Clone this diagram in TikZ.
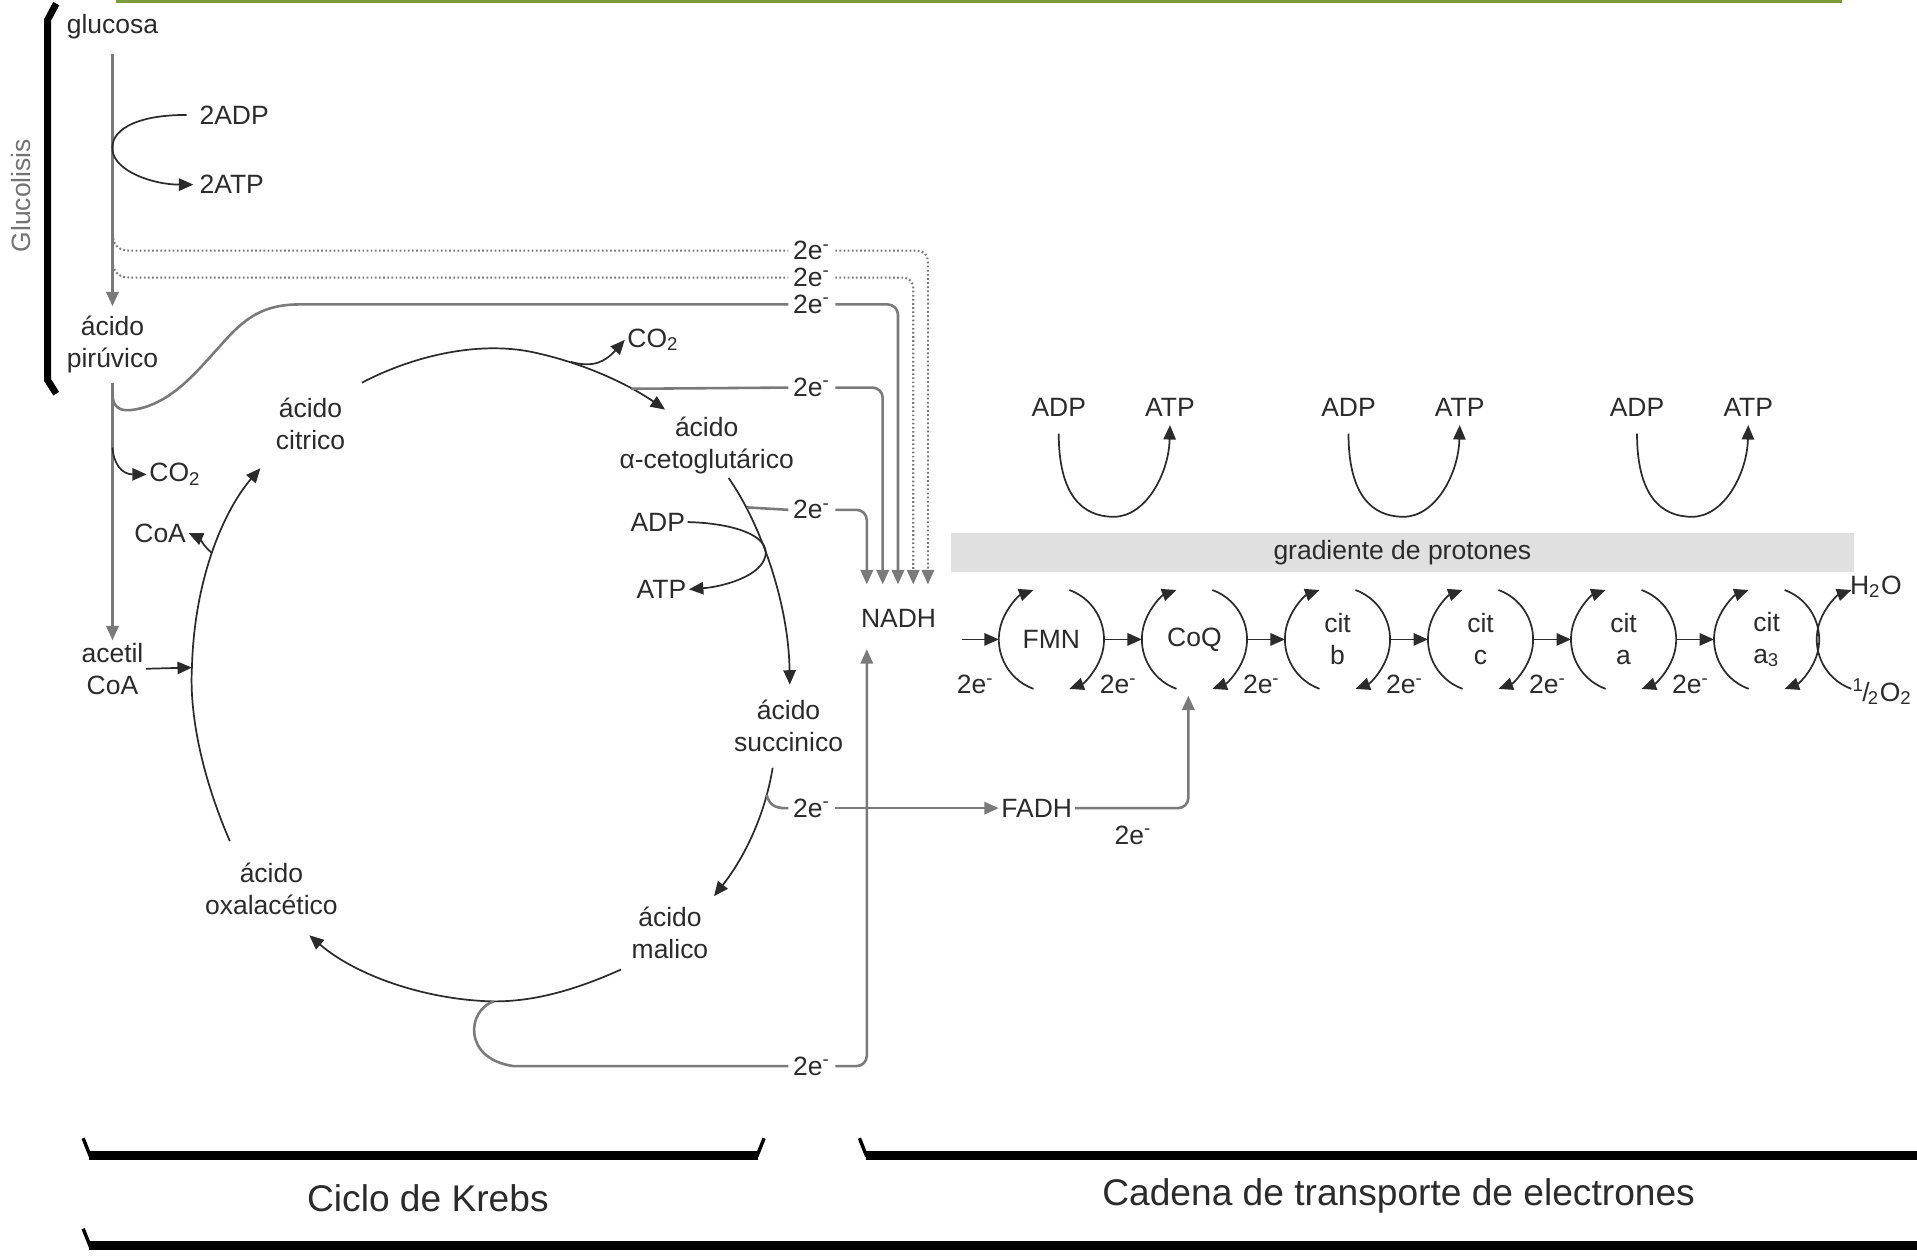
\documentclass[tikz,border=0pt]{standalone}
\usepackage{fontspec}
\setmainfont{Liberation Sans}
\usetikzlibrary{arrows.meta,calc}
\definecolor{oliva}{HTML}{7B9B3A}
\definecolor{gradiente}{HTML}{E0E0E0}
\definecolor{linea}{HTML}{7A7A7A}
\definecolor{tinta}{HTML}{2B2B2B}

\begin{document}
\begin{tikzpicture}[x=0.0125cm,y=-0.0125cm,
    lbl/.style={font=\fontsize{7.7}{9.3}\selectfont,text=tinta,align=center,inner sep=0.6pt},
    elec/.style={lbl,inner xsep=1.2pt,inner ysep=0pt},
    titulo/.style={font=\fontsize{10.8}{13}\selectfont,text=tinta},
    flujo/.style={draw=linea,line width=0.75pt},
    curva/.style={draw=tinta,line width=0.5pt},
    punteo/.style={draw=linea,line width=0.6pt,dash pattern=on 0.5pt off 0.7pt},
    pico/.style={-{Triangle[length=4.2pt,width=3.6pt]}},
    llave/.style={draw=black,line width=2.6pt},
    gancho/.style={draw=black,line width=1pt}]
  \useasboundingbox (0,0) rectangle (1568,1027);
  \draw[oliva,line width=0.9pt] (95,1) -- (1507,1);

  % glucolisis
  \draw[black,line width=2pt] (46,3) -- (39,16) -- (39,311) -- (46,322);
  \node[lbl,rotate=90,text=black!55] (glucolisis) at (17,160) {Glucolisis};
  \node[lbl] (glucosa) at (92,22) {glucosa};
  \node[lbl] (piruvico) at (92,282) {ácido\\pirúvico};
  \node[lbl] (acetil) at (92,547) {acetil\\CoA};
  \node[lbl,anchor=west] (adp0) at (161,94) {2ADP};
  \node[lbl,anchor=west] (atp0) at (161,151) {2ATP};
  \node[lbl,anchor=west] (co2a) at (120,388) {CO\textsubscript{2}};
  \node[lbl] (coa) at (131,436) {CoA};
  \coordinate (rama1) at (92,188);
  \coordinate (rama2) at (92,210);
  \coordinate (rama3) at (92,322);
  \coordinate (ramaco2) at (92,366);
  \draw[flujo,pico,shorten <=3.5pt] (glucosa.south) -- ($(piruvico.north)+(0,-6)$);
  \draw[curva,pico] ([xshift=-3pt]adp0.west) .. controls (108,94) and (90,108) .. (92,123)
    .. controls (94,140) and (125,151) .. ([xshift=-1pt]atp0.west);
  \draw[flujo,pico,shorten <=2pt] (piruvico.south) -- (acetil.north);
  \draw[curva,pico] (ramaco2) .. controls (93,380) and (100,388) .. (co2a.west);

  % ciclo de Krebs
  \node[lbl] (citrico) at (254,347) {ácido\\citrico};
  \node[lbl] (ceto) at (578,364) {ácido\\α-cetoglutárico};
  \node[lbl] (succinico) at (645,594) {ácido\\succinico};
  \node[lbl] (malico) at (548,763) {ácido\\malico};
  \node[lbl] (oxal) at (222,727) {ácido\\oxalacético};
  \node[lbl] (adp1) at (538,427) {ADP};
  \node[lbl] (atp1) at (541,482) {ATP};
  \node[lbl,anchor=west] (co2b) at (511,278) {CO\textsubscript{2}};
  \coordinate (izq0) at (188,688);
  \coordinate (izqmed) at (157,546);
  \coordinate (izq1) at (213,383);
  \coordinate (ramacoa) at (173,452);
  \coordinate (arr0) at (296,313);
  \coordinate (arr1) at (544,335);
  \coordinate (ramaco2b) at (467,296);
  \coordinate (der0) at (596,391);
  \coordinate (der1) at (646,560);
  \coordinate (sm0) at (632,628);
  \coordinate (sm1) at (584,733);
  \coordinate (bot0) at (508,793);
  \coordinate (bot1) at (253,765);
  \draw[curva,pico] (izq0) .. controls (163,630) and (155,580) .. (izqmed)
    .. controls (159,470) and (185,415) .. (izq1);
  \draw[curva,pico] (acetil.east) -- (izqmed);
  \draw[curva,pico] (ramacoa) .. controls (166,446) and (163,440) .. (coa.east);
  \draw[curva,pico] (arr0) .. controls (340,290) and (395,278) .. (440,289)
    .. controls (480,298) and (515,315) .. (arr1);
  \draw[curva,pico] (ramaco2b) .. controls (485,301) and (495,296) .. (co2b.west);
  \draw[curva,pico] (der0) .. controls (620,425) and (645,490) .. (der1);
  \draw[curva,pico] (adp1.east) .. controls (600,428) and (630,438) .. (626,455)
    .. controls (622,472) and (590,480) .. (atp1.east);
  \draw[curva,pico] (sm0) .. controls (626,665) and (610,700) .. (sm1);
  \draw[curva,pico] (bot0) .. controls (470,810) and (435,820) .. (400,819)
    .. controls (345,817) and (290,797) .. (bot1);

  % electrones hacia NADH
  \node[lbl] (nadh) at (735,506) {NADH};
  \foreach \n/\x in {1/709,2/722,3/734.5,4/747,5/759}
    \coordinate (n\n) at (\x,478);
  \coordinate (nadhbajo) at (709,531);
  \coordinate (rama4) at (516,318);
  \coordinate (rama5) at (611,415);
  \coordinate (rama6) at (627,650);
  \coordinate (rama7) at (404,819);
  \node[elec] (e1) at (664,205) {2e\textsuperscript{-}};
  \node[elec] (e2) at (664,227) {2e\textsuperscript{-}};
  \node[elec] (e3) at (664,249) {2e\textsuperscript{-}};
  \node[elec] (e4) at (664,317) {2e\textsuperscript{-}};
  \node[elec] (e5) at (664,417) {2e\textsuperscript{-}};
  \node[elec] (e6) at (664,661) {2e\textsuperscript{-}};
  \node[elec] (e7) at (664,872) {2e\textsuperscript{-}};
  \draw[punteo] (rama1) .. controls (92,200) and (96,205) .. (106,205) -- (e1.west);
  \draw[punteo,pico,rounded corners=3pt] (e1.east) -| (n5);
  \draw[punteo] (rama2) .. controls (92,222) and (96,227) .. (106,227) -- (e2.west);
  \draw[punteo,pico,rounded corners=3pt] (e2.east) -| (n4);
  \draw[flujo] (rama3) .. controls (92,334) and (99,337) .. (110,335)
    .. controls (140,330) and (160,305) .. (180,283)
    .. controls (200,260) and (215,249) .. (245,249) -- (e3.west);
  \draw[flujo,pico,rounded corners=3pt] (e3.east) -| (n3);
  \draw[flujo] (rama4) -- (e4.west);
  \draw[flujo,pico,rounded corners=3pt] (e4.east) -| (n2);
  \draw[flujo] (rama5) -- (e5.west);
  \draw[flujo,pico,rounded corners=3pt] (e5.east) -| (n1);
  \draw[flujo] (rama7) .. controls (382,826) and (378,866) .. (420,872) -- (e7.west);
  \draw[flujo,pico,rounded corners=3pt] (e7.east) -| (nadhbajo);

  % FADH
  \node[lbl] (fadh) at (848,661) {FADH};
  \node[elec] (e8) at (927,683) {2e\textsuperscript{-}};
  \coordinate (coqbajo) at (972,569);
  \draw[flujo] (rama6) .. controls (629,658) and (634,661) .. (642,661) -- (e6.west);
  \draw[flujo,pico] (e6.east) -- (fadh.west);
  \draw[flujo,pico,rounded corners=3pt] (fadh.east) -| (coqbajo);

  % cadena de transporte
  \node[lbl,fill=gradiente,minimum width=9.225cm,minimum height=0.4cm] (grad) at (1147,452) {gradiente de protones};
  \foreach \k/\x in {1/866,2/1103,3/1339} {
    \node[lbl] (adpc\k) at (\x,333) {ADP};
    \node[lbl] (atpc\k) at (\x+91,333) {ATP};
    \draw[curva,pico] ($(adpc\k.south)+(0,12)$) .. controls +(0,50) and +(-26,0) .. ($(adpc\k.south)+(45,80)$)
      .. controls +(26,0) and +(-1,40) .. ($(atpc\k.south)+(0,5)$);
  }
  \foreach \nom/\x/\txt in {fmn/860/FMN, coq/977/CoQ, citb/1094/{cit\\b}, citc/1211/{cit\\c},
      cita/1328/{cit\\a}, citaa/1445/{cit\\a\textsubscript{3}}} {
    \node[lbl] (\nom) at (\x,523) {\txt};
    \draw[curva,pico] (\nom.center) ++(250:0.5375cm) arc[start angle=250,end angle=110,radius=0.5375cm];
    \draw[curva,pico] (\nom.center) ++(70:0.5375cm) arc[start angle=70,end angle=-70,radius=0.5375cm];
    \node[elec] (e\nom) at (\x-62,560) {2e\textsuperscript{-}};
  }
  \coordinate (entrada) at (787,523);
  \draw[curva,pico] (entrada) -- ($(fmn.center)+(-43,0)$);
  \foreach \a/\b in {fmn/coq,coq/citb,citb/citc,citc/cita,cita/citaa}
    \draw[curva,pico] ($(\a.center)+(43,0)$) -- ($(\b.center)+(-43,0)$);
  \coordinate (oxig) at (1529,523);
  \draw[curva,pico] (oxig) ++(250:0.5375cm) arc[start angle=250,end angle=110,radius=0.5375cm];
  \node[lbl,anchor=west] (agua) at (1511,480) {H\textsubscript{2}O};
  \node[lbl,anchor=west] (oxigeno) at (1513,566) {\textsuperscript{1}\kern-0.6pt/\kern-0.6pt\textsubscript{2}O\textsubscript{2}};

  % llaves inferiores
  \node[titulo] (krebs) at (350,980) {Ciclo de Krebs};
  \node[titulo] (cadena) at (1144,978) {Cadena de transporte de electrones};
  \draw[llave] (73,945) -- (620,945);
  \draw[gancho] (68,931) -- (74,946);
  \draw[gancho] (625,931) -- (619,946);
  \draw[llave] (708,945) -- (1568,945);
  \draw[gancho] (703,931) -- (709,946);
  \draw[llave] (73,1019) -- (1568,1019);
  \draw[gancho] (68,1005) -- (74,1020);
\end{tikzpicture}
\end{document}
